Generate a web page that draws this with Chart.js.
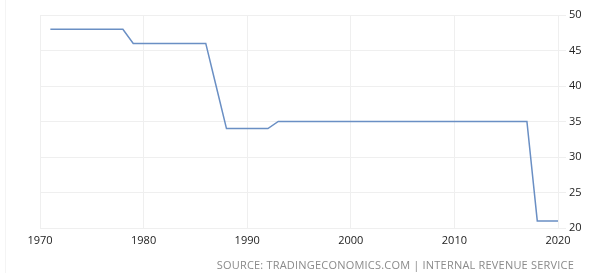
<!DOCTYPE html>
<html>
<head>
<meta charset="utf-8">
<script src="https://cdn.jsdelivr.net/npm/chart.js@4"></script>
<style>
  html, body { margin: 0; padding: 0; background: #fff; }
  #wrap { position: relative; width: 602px; height: 273px; }
  #edge { position: absolute; left: 5px; top: 0; width: 1px; height: 273px; background: #f4f4f4; }
  #fonte {
    position: absolute; right: 28px; top: 257px;
    font-family: "Open Sans", "DejaVu Sans", sans-serif; font-size: 11px;
    color: #8a8a8a; letter-spacing: 0.2px; white-space: nowrap;
  }
</style>
</head>
<body>
<div id="wrap">
  <div id="edge"></div>
  <canvas id="grafico" width="602" height="273"></canvas>
  <div id="fonte">SOURCE: TRADINGECONOMICS.COM | INTERNAL REVENUE SERVICE</div>
</div>
<script>
// Anos e taxa (%)
const anos = [1971, 1972, 1973, 1974, 1975, 1976, 1977, 1978, 1979, 1980,
  1981, 1982, 1983, 1984, 1985, 1986, 1987, 1988, 1989, 1990,
  1991, 1992, 1993, 1994, 1995, 1996, 1997, 1998, 1999, 2000,
  2001, 2002, 2003, 2004, 2005, 2006, 2007, 2008, 2009, 2010,
  2011, 2012, 2013, 2014, 2015, 2016, 2017, 2018, 2019, 2020];
const taxa = [48, 48, 48, 48, 48, 48, 48, 48, 46, 46,
  46, 46, 46, 46, 46, 46, 40, 34, 34, 34,
  34, 34, 35, 35, 35, 35, 35, 35, 35, 35,
  35, 35, 35, 35, 35, 35, 35, 35, 35, 35,
  35, 35, 35, 35, 35, 35, 35, 21, 21, 21];
const ticksX = [1970, 1980, 1990, 2000, 2010, 2020];
const ticksY = [20, 25, 30, 35, 40, 45, 50];

const fonteTicks = { family: '"Open Sans", "DejaVu Sans", sans-serif', size: 11 };

new Chart(document.getElementById('grafico'), {
  type: 'line',
  data: {
    datasets: [{
      data: anos.map((a, i) => ({ x: a, y: taxa[i] })),
      borderColor: '#6a8fc4',
      borderWidth: 1.5,
      pointRadius: 0,
      tension: 0,
      fill: false,
    }],
  },
  options: {
    responsive: false,
    animation: false,
    layout: { padding: { left: 40, top: 15, right: 0, bottom: 0 } },
    plugins: { legend: { display: false }, tooltip: { enabled: false } },
    scales: {
      x: {
        type: 'linear',
        min: 1970,
        max: 2020,
        afterBuildTicks: (s) => { s.ticks = ticksX.map(v => ({ value: v })); },
        afterFit: (s) => { s.height = 45; },
        grid: { color: '#efefef', drawTicks: false },
        border: { display: false },
        ticks: { color: '#222', font: fonteTicks, padding: 6, callback: (v) => String(v) },
      },
      y: {
        position: 'right',
        min: 20,
        max: 50,
        afterBuildTicks: (s) => { s.ticks = ticksY.map(v => ({ value: v })); },
        afterFit: (s) => { s.width = 44; },
        grid: { color: '#efefef', tickLength: 8 },
        border: { display: false },
        ticks: { color: '#222', font: fonteTicks, padding: 3 },
      },
    },
  },
});
</script>
</body>
</html>
